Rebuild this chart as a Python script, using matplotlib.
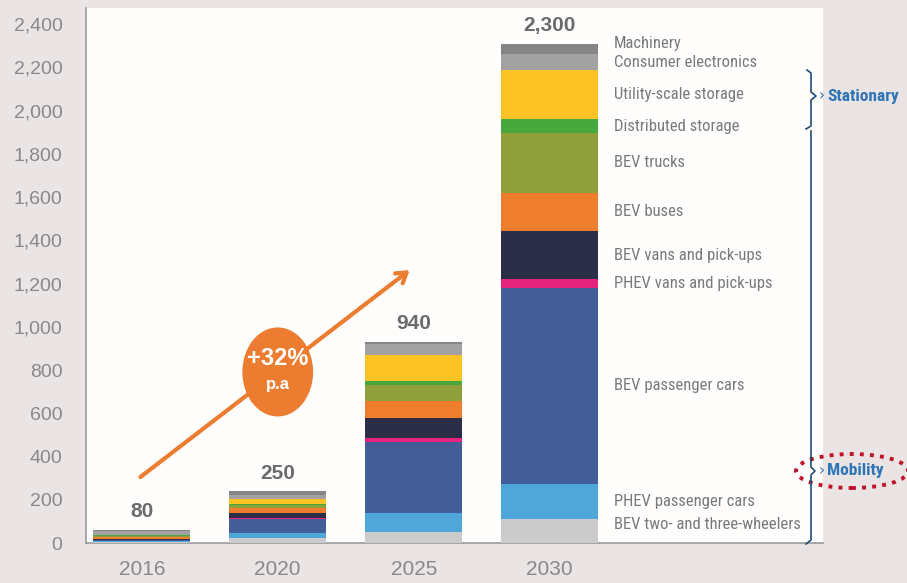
import matplotlib
matplotlib.use('Agg')
import matplotlib.pyplot as plt
import numpy as np
from matplotlib import font_manager
from matplotlib.patches import Ellipse
from matplotlib.lines import Line2D

# data (GWh), stacked bottom -> top
years = ['2016', '2020', '2025', '2030']
totals = ['80', '250', '940', '2,300']

segments = ['BEV two- and three-wheelers', 'PHEV passenger cars', 'BEV passenger cars',
            'PHEV vans and pick-ups', 'BEV vans and pick-ups', 'BEV buses', 'BEV trucks',
            'Distributed storage', 'Utility-scale storage', 'Consumer electronics', 'Machinery']
two_three = [6, 25, 52, 110]
phev_cars = [3, 21, 88, 162]
bev_cars = [4, 67, 328, 909]
phev_vans = [1, 2, 18, 39]
bev_vans = [4, 23, 92, 223]
bev_buses = [12, 25, 80, 177]
bev_trucks = [4, 14, 71, 277]
dist_storage = [2, 4, 18, 62]
utility_storage = [3, 21, 123, 227]
consumer_elec = [15, 21, 49, 74]
machinery = [8, 18, 12, 49]
values = [two_three, phev_cars, bev_cars, phev_vans, bev_vans, bev_buses, bev_trucks,
          dist_storage, utility_storage, consumer_elec, machinery]
colors = ['#cbcbcb', '#4fa7d9', '#435d98', '#e6237d', '#2c2e48', '#ef7d2e', '#8f9f39',
          '#48a83d', '#fbc323', '#a2a2a2', '#858585']

# pick a narrow face for the category labels if one is installed
names = {f.name for f in font_manager.fontManager.ttflist}
NARROW = 'DejaVu Sans'
for cand in ['Liberation Sans Narrow', 'Roboto Condensed', 'Open Sans Condensed']:
    if cand in names:
        NARROW = cand
        break
NSIZE = 12 if NARROW != 'DejaVu Sans' else 9.5

W, H = 907, 583
fig = plt.figure(figsize=(W / 100, H / 100), dpi=100)
fig.patch.set_facecolor('#ebe4e4')
ax = fig.add_axes([86 / W, 1 - 543 / H, (823 - 86) / W, (543 - 8) / H])
ax.set_facecolor('#fffefc')

x = np.arange(len(years))
bottom = np.zeros(len(years))
for vals, c in zip(values, colors):
    ax.bar(x, vals, bottom=bottom, width=0.71, color=c, zorder=3)
    bottom += np.array(vals)

ax.set_xlim(-0.41, 5.01)
ax.set_ylim(0, 2474)
ax.set_yticks(np.arange(0, 2401, 200))
ax.set_yticklabels([f'{v:,}' for v in range(0, 2401, 200)], fontsize=14,
                   color='#888888', family='Liberation Sans')
ax.set_xticks(x)
ax.set_xticklabels(years, fontsize=15, color='#888888', family='Liberation Sans')
ax.tick_params(axis='y', length=0, pad=17)
ax.tick_params(axis='x', length=0, pad=12)
for s in ['top', 'right']:
    ax.spines[s].set_visible(False)
for s in ['left', 'bottom']:
    ax.spines[s].set_color('#9a9a9a')
    ax.spines[s].set_linewidth(1.2)

# totals above bars
for xi, top, t in zip(x, bottom, totals):
    ax.annotate(t, (xi, top), xytext=(0, 6), textcoords='offset points',
                ha='center', va='bottom', fontsize=15, fontweight='bold',
                color='#6b6b6b', family='Liberation Sans')

# segment labels to the right of 2030 bar
nudge = {'Machinery': 4, 'BEV two- and three-wheelers': 5}
last = [v[-1] for v in values]
cum = np.cumsum([0] + last)
for i, name in enumerate(segments):
    mid = (cum[i] + cum[i + 1]) / 2
    ax.annotate(name, (3.47, mid), xytext=(0, nudge.get(name, 0)), textcoords='offset points',
                ha='left', va='center', fontsize=NSIZE, color='#7a7a7a', family=NARROW,
                fontstretch='condensed')

# growth arrow with badge
orange = '#ec7c30'
ax.annotate('', xy=(1.97, 1262), xytext=(-0.01, 305),
            arrowprops=dict(arrowstyle='->,head_length=0.7,head_width=0.45', color=orange,
                            lw=3, shrinkA=0, shrinkB=0), zorder=4)
ax.add_patch(Ellipse((1.0, 791), 0.51, 405, color=orange, zorder=5))
ax.text(1.0, 855, '+32%', ha='center', va='center', color='white', fontsize=17,
        fontweight='bold', family='Liberation Sans', zorder=6)
ax.text(1.0, 735, 'p.a', ha='center', va='center', color='white', fontsize=12,
        fontweight='bold', family='Liberation Sans', zorder=6)


# braces on the right (figure pixel coords)
def px(pts):
    return [p[0] / W for p in pts], [1 - p[1] / H for p in pts]


navy = '#1f4e79'
brace_stat = [(807, 70), (811, 73), (811, 92), (816, 96), (811, 100), (811, 126), (806, 129)]
brace_mob = [(811, 131), (811, 467), (815, 471), (811, 475), (811, 540), (806, 544)]
for b in (brace_stat, brace_mob):
    xs, ys = px(b)
    fig.add_artist(Line2D(xs, ys, color=navy, lw=1.2))

blue = '#2e75b6'
fig.text(819 / W, 1 - 96 / H, '›', color=blue, fontsize=11, va='center', ha='left')
fig.text(827 / W, 1 - 96 / H, 'Stationary', color=blue, fontsize=12.5,
         fontweight='bold', va='center', ha='left', family=NARROW, fontstretch='condensed')
fig.text(819 / W, 1 - 471 / H, '›', color=blue, fontsize=11, va='center', ha='left')
fig.text(827 / W, 1 - 471 / H, 'Mobility', color=blue, fontsize=12.5,
         fontweight='bold', va='center', ha='left', family=NARROW, fontstretch='condensed')
ell = Ellipse((852 / W, 1 - 471 / H), 112 / W, 34 / H, transform=fig.transFigure,
              fill=False, edgecolor='#c01228', lw=2.8, linestyle=(0, (1, 1.6)))
fig.add_artist(ell)

fig.savefig('out.png', dpi=100, facecolor=fig.get_facecolor())
